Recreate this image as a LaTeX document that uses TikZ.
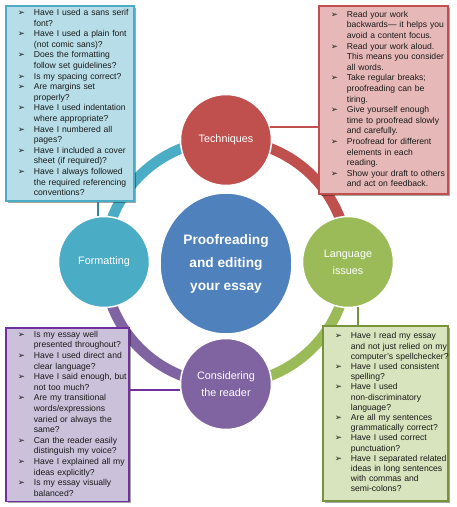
\documentclass[tikz,border=0pt]{standalone}
\usepackage{fontspec}
\setmainfont{Liberation Sans}
\newfontfamily\dejavu{DejaVu Sans}
\usetikzlibrary{shapes.geometric,shadows}
\definecolor{cTeal}{HTML}{4BACC6}
\definecolor{cTealD}{HTML}{31859C}
\definecolor{cRed}{HTML}{C0504D}
\definecolor{cGreen}{HTML}{9BBB59}
\definecolor{cGreenD}{HTML}{77933C}
\definecolor{cPurple}{HTML}{8064A2}
\definecolor{cPurpleD}{HTML}{7030A0}
\definecolor{cBlue}{HTML}{4F81BD}
\definecolor{fTeal}{HTML}{B7DEE8}
\definecolor{fRed}{HTML}{E6B9B8}
\definecolor{fPurple}{HTML}{CCC1DA}
\definecolor{fGreen}{HTML}{D7E4BD}
\definecolor{txt}{HTML}{1A1A1A}
\newcommand{\bul}{\makebox[16pt][l]{\dejavu\fontsize{8.5}{8}\selectfont ➢}}
\newcommand{\boxfont}{\fontsize{8.6}{10.6}\selectfont}
\tikzset{
  ring/.style={line width=10.5pt},
  topic/.style={circle, minimum size=91pt, inner sep=0pt, draw=white, line width=1.5pt,
    text=white, align=center, font=\fontsize{10.8}{17}\selectfont},
  listbox/.style={rectangle, anchor=north west, line width=1.8pt, inner xsep=12pt, inner ysep=2pt,
    align=left, text=txt, font=\boxfont,
    drop shadow={shadow xshift=2pt, shadow yshift=-2pt, fill=black, opacity=0.35}},
  link/.style={line width=2pt}
}
\begin{document}
\begin{tikzpicture}[x=1pt,y=1pt]
\useasboundingbox (0,0) rectangle (457,507);
% topic circles (positions)
\coordinate (ringc) at (226,245);
\node[topic, fill=cRed] (tech) at (226,367) {Techniques};
\node[topic, fill=cTeal] (fmt) at (104,245) {Formatting};
\node[topic, fill=cGreen] (lang) at (348,245) {Language\\issues};
\node[topic, fill=cPurple] (cons) at (226,123) {Considering\\the reader};
% ring arcs
\draw[ring, cTeal] (fmt.center) arc[start angle=180, end angle=90, radius=122pt];
\draw[ring, cRed] (tech.center) arc[start angle=90, end angle=0, radius=122pt];
\draw[ring, cGreen] (lang.center) arc[start angle=0, end angle=-90, radius=122pt];
\draw[ring, cPurple] (cons.center) arc[start angle=270, end angle=180, radius=122pt];
% redraw circles on top
\node[topic, fill=cRed] at (tech) {Techniques};
\node[topic, fill=cTeal] at (fmt) {Formatting};
\node[topic, fill=cGreen] at (lang) {Language\\issues};
\node[topic, fill=cPurple] at (cons) {Considering\\the reader};
% centre
\node[ellipse, minimum width=132pt, minimum height=141pt, inner sep=0pt, fill=cBlue, draw=white,
  line width=1.5pt, text=white, align=center, font=\bfseries\fontsize{13.7}{23}\selectfont]
  (centre) at (226,243.5) {Proofreading\\and editing\\your essay};
% boxes
\node[listbox, draw=cTeal, fill=fTeal, text width=104pt, minimum height=195pt] (fmtbox) at (5,502) {%
\begin{tabular}{@{}l@{}l@{}}
\bul & Have I used a sans serif\\
 & font?\\
\bul & Have I used a plain font\\
 & (not comic sans)?\\
\bul & Does the formatting\\
 & follow set guidelines?\\
\bul & Is my spacing correct?\\
\bul & Are margins set\\
 & properly?\\
\bul & Have I used indentation\\
 & where appropriate?\\
\bul & Have I numbered all\\
 & pages?\\
\bul & Have I included a cover\\
 & sheet (if required)?\\
\bul & Have I always followed\\
 & the required referencing\\
 & conventions?
\end{tabular}};
\node[listbox, draw=cRed, fill=fRed, text width=105pt, minimum height=188pt] (techbox) at (318,502) {%
\begin{tabular}{@{}l@{}l@{}}
\bul & Read your work\\
 & backwards--- it helps you\\
 & avoid a content focus.\\
\bul & Read your work aloud.\\
 & This means you consider\\
 & all words.\\
\bul & Take regular breaks;\\
 & proofreading can be\\
 & tiring.\\
\bul & Give yourself enough\\
 & time to proofread slowly\\
 & and carefully.\\
\bul & Proofread for different\\
 & elements in each\\
 & reading.\\
\bul & Show your draft to others\\
 & and act on feedback.
\end{tabular}};
\node[listbox, draw=cPurpleD, fill=fPurple, text width=99pt, minimum height=170pt] (consbox) at (5,180) {%
\begin{tabular}{@{}l@{}l@{}}
\bul & Is my essay well\\
 & presented throughout?\\
\bul & Have I used direct and\\
 & clear language?\\
\bul & Have I said enough, but\\
 & not too much?\\
\bul & Are my transitional\\
 & words/expressions\\
 & varied or always the\\
 & same?\\
\bul & Can the reader easily\\
 & distinguish my voice?\\
\bul & Have I explained all my\\
 & ideas explicitly?\\
\bul & Is my essay visually\\
 & balanced?
\end{tabular}};
\node[listbox, draw=cGreenD, fill=fGreen, text width=101pt, minimum height=175pt,
  font=\fontsize{8.6}{10.2}\selectfont] (langbox) at (322,182) {%
\begin{tabular}{@{}l@{}l@{}}
\bul & Have I read my essay\\
 & and not just relied on my\\
 & computer's spellchecker?\\
\bul & Have I used consistent\\
 & spelling?\\
\bul & Have I used\\
 & non-discriminatory\\
 & language?\\
\bul & Are all my sentences\\
 & grammatically correct?\\
\bul & Have I used correct\\
 & punctuation?\\
\bul & Have I separated related\\
 & ideas in long sentences\\
 & with commas and\\
 & semi-colons?
\end{tabular}};
% connectors
\draw[link, cTealD] (fmt.97.5) -- (fmt.97.5 |- fmtbox.south);
\draw[link, cRed] (tech.16.8) -- (tech.16.8 -| techbox.west);
\draw[link, cPurpleD] (cons.187.5) -- (cons.187.5 -| consbox.east);
\draw[link, cGreenD] (lang.-77.5) -- (lang.-77.5 |- langbox.north);
\end{tikzpicture}
\end{document}
